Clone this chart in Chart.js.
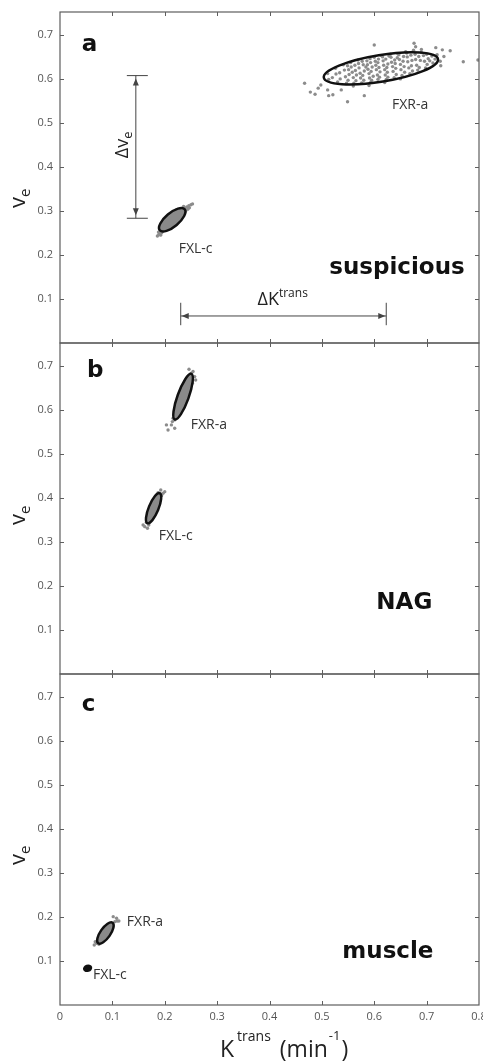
<!DOCTYPE html>
<html>
<head>
<meta charset="utf-8">
<script src="https://cdn.jsdelivr.net/npm/chart.js@4.4.1/dist/chart.umd.min.js"></script>
<style>
  html, body { margin: 0; padding: 0; background: #fff; }
  #wrap { position: relative; width: 483px; height: 1061px; }
</style>
</head>
<body>
<div id="wrap"><canvas id="chart"></canvas></div>
<script>
// axis ticks
const xTicks = [0, 0.1, 0.2, 0.3, 0.4, 0.5, 0.6, 0.7, 0.8];
const yTicks = [0.1, 0.2, 0.3, 0.4, 0.5, 0.6, 0.7];
const yMax = 0.752;

// panels: a = suspicious, b = NAG, c = muscle
const panelLetters = ['a', 'b', 'c'];
const panelNames = ['suspicious', 'NAG', 'muscle'];
const axisIds = ['ya', 'yb', 'yc'];

// Ktrans, ve samples per cluster
const aFXRa = [
  [0.467,0.590],[0.478,0.570],[0.487,0.565],[0.493,0.579],[0.498,0.586],[0.513,0.562],[0.521,0.564],
  [0.511,0.575],[0.549,0.548],[0.581,0.562],[0.600,0.677],[0.537,0.575],[0.7175,0.671],[0.730,0.666],
  [0.745,0.664],[0.733,0.651],[0.726,0.640],[0.727,0.630],[0.770,0.639],[0.798,0.643],[0.679,0.673],[0.676,0.681],
  [0.513,0.599],[0.511,0.612],[0.530,0.593],[0.527,0.611],[0.526,0.624],[0.547,0.590],[0.545,0.605],
  [0.543,0.620],[0.541,0.632],[0.561,0.590],[0.560,0.603],[0.558,0.615],[0.556,0.627],[0.555,0.637],
  [0.576,0.591],[0.574,0.602],[0.573,0.613],[0.571,0.625],[0.570,0.635],[0.569,0.643],[0.593,0.592],
  [0.591,0.602],[0.590,0.612],[0.588,0.622],[0.587,0.632],[0.586,0.641],[0.607,0.599],[0.606,0.609],
  [0.604,0.621],[0.603,0.631],[0.602,0.640],[0.600,0.649],[0.623,0.599],[0.621,0.609],[0.620,0.621],
  [0.618,0.631],[0.617,0.641],[0.616,0.650],[0.638,0.603],[0.636,0.617],[0.635,0.628],[0.633,0.638],
  [0.632,0.649],[0.631,0.656],[0.653,0.608],[0.651,0.621],[0.650,0.633],[0.648,0.644],[0.647,0.655],
  [0.668,0.612],[0.666,0.625],[0.664,0.639],[0.663,0.650],[0.662,0.659],[0.683,0.620],[0.681,0.631],
  [0.679,0.644],[0.678,0.656],[0.698,0.625],[0.696,0.640],[0.694,0.653],[0.712,0.636],[0.710,0.652],
  [0.581,0.618],[0.596,0.627],[0.611,0.616],[0.626,0.634],[0.641,0.624],[0.655,0.640],[0.671,0.630],
  [0.566,0.609],[0.551,0.621],[0.598,0.606],[0.622,0.645],[0.644,0.648],[0.688,0.642],[0.703,0.646],
  [0.579,0.632],[0.607,0.637],
  [0.520,0.603],[0.535,0.600],[0.534,0.614],[0.550,0.597],[0.552,0.610],[0.549,0.630],[0.565,0.596],
  [0.564,0.619],[0.563,0.631],[0.580,0.597],[0.578,0.608],[0.577,0.640],[0.584,0.627],[0.595,0.597],
  [0.594,0.617],[0.593,0.637],[0.592,0.646],[0.610,0.604],[0.609,0.626],[0.608,0.645],[0.613,0.653],
  [0.626,0.604],[0.625,0.615],[0.624,0.626],[0.628,0.652],[0.642,0.610],[0.640,0.635],[0.639,0.643],
  [0.645,0.657],[0.658,0.615],[0.657,0.628],[0.656,0.651],[0.660,0.662],[0.673,0.618],[0.672,0.642],
  [0.670,0.654],[0.686,0.626],[0.685,0.651],[0.690,0.660],[0.701,0.633],[0.700,0.656],[0.706,0.641],
  [0.716,0.645],[0.720,0.655],[0.675,0.665],[0.690,0.667],[0.560,0.584],[0.590,0.585],[0.620,0.592],
  [0.650,0.600]
];
const aFXLc = [
  [0.186,0.243],[0.189,0.247],[0.192,0.245],[0.188,0.252],[0.194,0.250],[0.196,0.254],[0.191,0.258],
  [0.238,0.306],[0.242,0.309],[0.246,0.312],[0.250,0.314],[0.253,0.316],[0.244,0.304],[0.240,0.300],
  [0.236,0.310],[0.247,0.307],[0.200,0.270],[0.205,0.262],[0.222,0.302],[0.230,0.298],[0.215,0.268],
  [0.225,0.285],[0.210,0.278],[0.198,0.263],[0.232,0.290]
];
const bFXRa = [
  [0.2463,0.6925],[0.2540,0.6871],[0.2571,0.6757],[0.2508,0.6834],[0.2590,0.668],[0.2527,0.6607],
  [0.2063,0.5545],[0.2032,0.5659],[0.2127,0.5659],[0.2190,0.5584],[0.2146,0.5734],[0.2190,0.5773],
  [0.2159,0.5811],[0.224,0.600],[0.232,0.640],[0.244,0.655],[0.238,0.620],[0.2200,0.5900]
];
const bFXLc = [
  [0.1968,0.4107],[0.2000,0.4143],[0.1924,0.4182],[0.1873,0.4121],[0.1619,0.3348],[0.1670,0.3311],
  [0.1587,0.3386],[0.1695,0.3386],[0.1650,0.3450],[0.1940,0.4050]
];
const cFXRa = [
  [0.1080,0.1970],[0.1124,0.1909],[0.1048,0.1894],[0.1016,0.2007],[0.1091,0.1909],[0.0699,0.1402],
  [0.0654,0.1364],[0.0743,0.1380],[0.0673,0.1439],[0.0720,0.1470]
];
const cFXLc = [[0.0527,0.0834],[0.0540,0.0850]];

const clusterPoints = [aFXRa, aFXLc, bFXRa, bFXLc, cFXRa, cFXLc];
const clusterPanel = [0, 0, 1, 1, 2, 2];
const clusterNames = ['FXR-a', 'FXL-c', 'FXR-a', 'FXL-c', 'FXR-a', 'FXL-c'];

// ellipses: centre, major half-axis (data units), minor/major ratio
const ellCx = [0.6127, 0.2143, 0.2350, 0.1787, 0.0867, 0.0527];
const ellCy = [0.6240, 0.2800, 0.6300, 0.3766, 0.1636, 0.0834];
const ellDx = [0.1090, 0.0238, 0.0158, 0.0118, 0.0137, 0.0063];
const ellDy = [0.0210, 0.0239, 0.0518, 0.0341, 0.0234, 0.0025];
const ellRatio = [0.23, 0.42, 0.23, 0.30, 0.40, 0.70];

// label anchors (left edge, middle), data units
const labelX = [0.634, 0.2267, 0.2495, 0.1886, 0.1276, 0.0629];
const labelY = [0.541, 0.2136, 0.566, 0.3136, 0.1886, 0.0682];
const letterX = [0.0413, 0.0514, 0.0413];
const letterY = [0.677, 0.689, 0.682];
const nameX = [0.514, 0.604, 0.539];
const nameY = [0.170, 0.161, 0.120];

// differences drawn in panel a
const deltaK = [0.2305, 0.6229];
const deltaKy = 0.0614;
const deltaVe = [0.2834, 0.6075];
const deltaVeX = 0.1448;

const ellFill = [null, '#8a8a8a', '#8a8a8a', '#8a8a8a', '#8a8a8a', '#111'];

function arrowHead(ctx, x, y, dx, dy) {
  const len = 7, w = 3;
  ctx.beginPath();
  ctx.moveTo(x, y);
  ctx.lineTo(x - dx * len - dy * w, y - dy * len + dx * w);
  ctx.lineTo(x - dx * len + dy * w, y - dy * len - dx * w);
  ctx.closePath();
  ctx.fill();
}

const extras = {
  id: 'extras',
  afterDatasetsDraw(chart) {
    const ctx = chart.ctx;
    const xs = chart.scales.x;
    ctx.save();
    ellCx.forEach((cx, i) => {
      const ys = chart.scales[axisIds[clusterPanel[i]]];
      const px = xs.getPixelForValue(cx), py = ys.getPixelForValue(ellCy[i]);
      const ex = xs.getPixelForValue(cx + ellDx[i]), ey = ys.getPixelForValue(ellCy[i] + ellDy[i]);
      const a = Math.hypot(ex - px, ey - py);
      const rot = Math.atan2(ey - py, ex - px);
      ctx.beginPath();
      ctx.ellipse(px, py, a, a * ellRatio[i], rot, 0, Math.PI * 2);
      if (ellFill[i]) { ctx.fillStyle = ellFill[i]; ctx.fill(); }
      ctx.lineWidth = 2.5;
      ctx.strokeStyle = '#111';
      ctx.stroke();
    });
    ctx.restore();
  },
  afterDraw(chart) {
    const ctx = chart.ctx;
    const xs = chart.scales.x;
    ctx.save();
    // frames and inward ticks
    axisIds.forEach((id) => {
      const ys = chart.scales[id];
      ctx.strokeStyle = '#5e5e5e';
      ctx.lineWidth = 1.2;
      ctx.strokeRect(xs.left, ys.top, xs.right - xs.left, ys.bottom - ys.top);
      ctx.lineWidth = 1;
      ctx.beginPath();
      yTicks.forEach(v => {
        const y = Math.round(ys.getPixelForValue(v)) + 0.5;
        ctx.moveTo(xs.left, y); ctx.lineTo(xs.left + 4, y);
        ctx.moveTo(xs.right, y); ctx.lineTo(xs.right - 4, y);
      });
      xTicks.slice(1, -1).forEach(v => {
        const x = Math.round(xs.getPixelForValue(v)) + 0.5;
        ctx.moveTo(x, ys.top); ctx.lineTo(x, ys.top + 4);
        ctx.moveTo(x, ys.bottom); ctx.lineTo(x, ys.bottom - 4);
      });
      ctx.stroke();
    });

    // cluster labels
    ctx.fillStyle = '#333';
    ctx.font = '14px "Open Sans"';
    ctx.textBaseline = 'middle';
    ctx.textAlign = 'left';
    clusterNames.forEach((t, i) => {
      const ys = chart.scales[axisIds[clusterPanel[i]]];
      ctx.fillText(t, xs.getPixelForValue(labelX[i]), ys.getPixelForValue(labelY[i]));
    });

    // panel letters and tissue names
    ctx.fillStyle = '#111';
    ctx.font = 'bold 23px "DejaVu Sans"';
    axisIds.forEach((id, i) => {
      const ys = chart.scales[id];
      ctx.fillText(panelLetters[i], xs.getPixelForValue(letterX[i]), ys.getPixelForValue(letterY[i]));
      ctx.fillText(panelNames[i], xs.getPixelForValue(nameX[i]), ys.getPixelForValue(nameY[i]));
    });

    // y titles: v with subscript e
    const titleOffset = [196, 182, 191];
    ctx.fillStyle = '#222';
    ctx.textBaseline = 'alphabetic';
    axisIds.forEach((id, i) => {
      const ys = chart.scales[id];
      ctx.save();
      ctx.translate(25, ys.top + titleOffset[i]);
      ctx.rotate(-Math.PI / 2);
      ctx.font = '22px "Open Sans"';
      ctx.fillText('v', 0, 0);
      const w = ctx.measureText('v').width;
      ctx.font = '15px "Open Sans"';
      ctx.fillText('e', w, 5);
      ctx.restore();
    });

    // x title: K^trans (min^-1)
    let x = 220;
    const by = 1057;
    ctx.font = '23px "Open Sans"';
    ctx.fillText('K', x, by); x += ctx.measureText('K').width + 3;
    ctx.font = '14px "Open Sans"';
    ctx.fillText('trans', x, by - 16); x += ctx.measureText('trans').width + 9;
    ctx.font = '23px "Open Sans"';
    ctx.fillText('(min', x, by); x += ctx.measureText('(min').width + 1;
    ctx.font = '13px "Open Sans"';
    ctx.fillText('-1', x, by - 17); x += ctx.measureText('-1').width + 1;
    ctx.font = '23px "Open Sans"';
    ctx.fillText(')', x, by);

    // delta annotations in panel a
    const ya = chart.scales.ya;
    ctx.strokeStyle = '#444';
    ctx.fillStyle = '#444';
    ctx.lineWidth = 1;
    const x1 = xs.getPixelForValue(deltaK[0]), x2 = xs.getPixelForValue(deltaK[1]);
    const yk = ya.getPixelForValue(deltaKy);
    ctx.beginPath();
    ctx.moveTo(x1, yk); ctx.lineTo(x2, yk);
    ctx.moveTo(x1, ya.getPixelForValue(deltaKy + 0.03)); ctx.lineTo(x1, ya.getPixelForValue(deltaKy - 0.021));
    ctx.moveTo(x2, ya.getPixelForValue(deltaKy + 0.03)); ctx.lineTo(x2, ya.getPixelForValue(deltaKy - 0.021));
    ctx.stroke();
    arrowHead(ctx, x1 + 1, yk, -1, 0);
    arrowHead(ctx, x2 - 1, yk, 1, 0);

    const xv = xs.getPixelForValue(deltaVeX);
    const y1 = ya.getPixelForValue(deltaVe[0]), y2 = ya.getPixelForValue(deltaVe[1]);
    ctx.beginPath();
    ctx.moveTo(xv, y1); ctx.lineTo(xv, y2);
    ctx.moveTo(xv - 9, y1); ctx.lineTo(xv + 12, y1);
    ctx.moveTo(xv - 9, y2); ctx.lineTo(xv + 12, y2);
    ctx.stroke();
    arrowHead(ctx, xv, y1 - 3, 0, 1);
    arrowHead(ctx, xv, y2 + 3, 0, -1);

    ctx.fillStyle = '#222';
    ctx.font = '18px "Open Sans"';
    const kx = (x1 + x2) / 2 - 26;
    ctx.fillText('\u0394K', kx, yk - 11);
    const kw = ctx.measureText('\u0394K').width;
    ctx.font = '12px "Open Sans"';
    ctx.fillText('trans', kx + kw, yk - 19);

    ctx.save();
    ctx.translate(xv - 8, ya.getPixelForValue(0.42));
    ctx.rotate(-Math.PI / 2);
    ctx.font = '18px "Open Sans"';
    ctx.fillText('\u0394v', 0, 0);
    const dw = ctx.measureText('\u0394v').width;
    ctx.font = '13px "Open Sans"';
    ctx.fillText('e', dw, 4);
    ctx.restore();

    ctx.restore();
  }
};

const datasets = clusterPoints.map((pts, i) => ({
  label: clusterNames[i],
  data: pts.map(p => ({ x: p[0], y: p[1] })),
  yAxisID: axisIds[clusterPanel[i]],
  pointRadius: 1.7,
  pointBorderWidth: 0,
  pointBackgroundColor: '#8c8c8c',
  showLine: false
}));

function yAxis() {
  return {
    type: 'linear',
    position: 'left',
    stack: 've',
    stackWeight: 1,
    min: 0,
    max: yMax,
    grid: { display: false, drawTicks: false },
    border: { display: false },
    ticks: { color: '#555', font: { family: 'Open Sans', size: 11 }, padding: 7, autoSkip: false },
    afterBuildTicks: (s) => { s.ticks = yTicks.map(v => ({ value: v })); },
    afterFit: (s) => { s.width = 60; s.paddingTop = 0; s.paddingBottom = 0; }
  };
}

new Chart(document.getElementById('chart'), {
  type: 'scatter',
  data: { datasets },
  options: {
    responsive: true,
    maintainAspectRatio: false,
    animation: false,
    layout: { padding: { top: 12, right: 3, left: 0, bottom: 0 } },
    plugins: { legend: { display: false }, tooltip: { enabled: false } },
    scales: {
      x: {
        type: 'linear',
        position: 'bottom',
        min: 0,
        max: 0.8,
        grid: { display: false, drawTicks: false },
        border: { display: false },
        ticks: { color: '#555', font: { family: 'Open Sans', size: 11 }, padding: 5, autoSkip: false, maxRotation: 0 },
        afterBuildTicks: (s) => { s.ticks = xTicks.map(v => ({ value: v })); },
        afterFit: (s) => { s.height = 56; s.paddingLeft = 0; s.paddingRight = 0; }
      },
      // stacked left axes are laid out from the last one upward, so c comes first
      yc: yAxis(),
      yb: yAxis(),
      ya: yAxis()
    }
  },
  plugins: [extras]
});
</script>
</body>
</html>
